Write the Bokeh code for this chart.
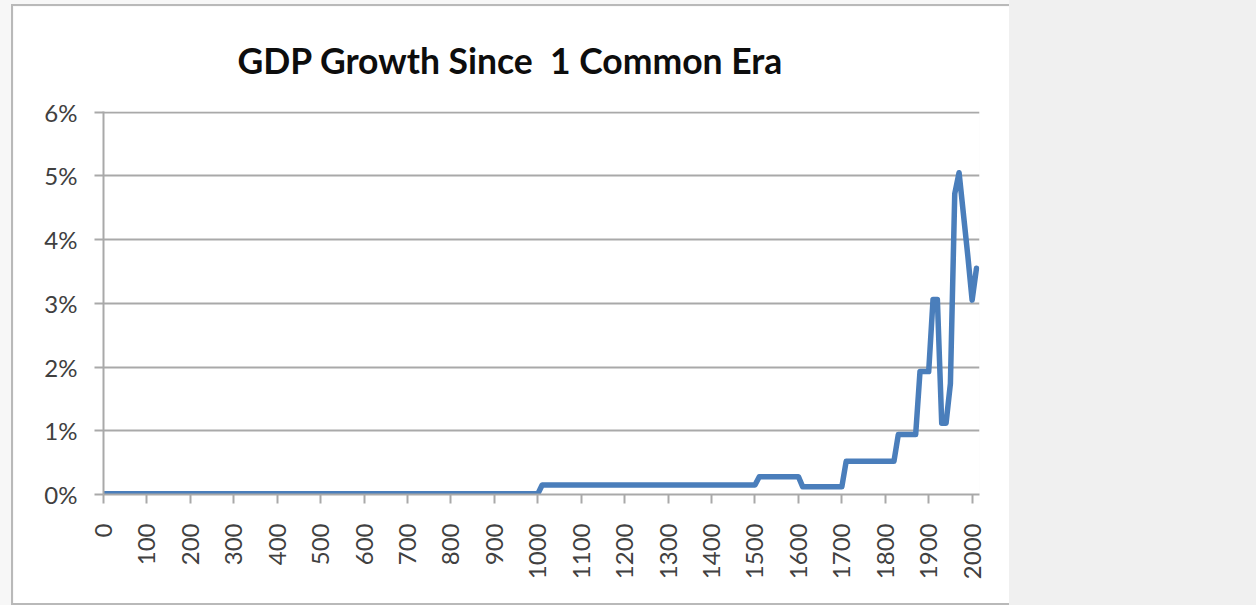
import math

from bokeh.embed import file_html
from bokeh.layouts import row
from bokeh.models import FixedTicker, Range1d, Spacer
from bokeh.plotting import figure
from bokeh.resources import INLINE

# Average annual world GDP growth (%), sampled per decade where it changes
years = [0, 1000, 1010, 1500, 1510, 1600, 1610, 1700, 1710, 1820, 1830,
         1870, 1880, 1900, 1910, 1920, 1930, 1940, 1950, 1960, 1970,
         1980, 1990, 2000, 2010]
growth = [0.01, 0.01, 0.15, 0.15, 0.28, 0.28, 0.12, 0.12, 0.52, 0.52, 0.94,
          0.94, 1.93, 1.93, 3.06, 3.06, 1.12, 1.12, 1.74, 4.72, 5.05,
          4.40, 3.75, 3.05, 3.55]

x_ticks = list(range(0, 2001, 100))
x_tick_labels = [str(t) for t in x_ticks]
y_ticks = [0, 1, 2, 3, 4, 5, 6]
y_tick_labels = ["0%", "1%", "2%", "3%", "4%", "5%", "6%"]
# the gap before "1" is two spaces wide; a no-break space keeps it from collapsing
title_text = "GDP Growth Since\u00a0 1 Common Era"

FONT = "Lato"
GRID = "#a9a9a9"
TEXT = "#404040"

p = figure(
    width=996, height=597,
    x_range=Range1d(0, 2017), y_range=Range1d(0, 6.01),
    output_backend="svg", toolbar_location=None,
    min_border_left=90, min_border_right=30,
    min_border_top=105, min_border_bottom=109,
    margin=(6, 0, 0, 13),
    background_fill_color="white", border_fill_color="white",
    styles={"outline": "2px solid #b9b9b9"},
)
p.outline_line_color = None

# chart title
p.title.text = title_text
p.title.align = "left"
p.title.offset = 134
p.title.standoff = 59
p.title.text_font = FONT
p.title.text_font_style = "bold"
p.title.text_font_size = "35.5px"
p.title.text_color = "#0d0d0d"

# axes
p.xaxis.ticker = FixedTicker(ticks=x_ticks)
p.xaxis.major_label_overrides = dict(zip(x_ticks, x_tick_labels))
p.xaxis.major_label_orientation = math.pi / 2
p.yaxis.ticker = FixedTicker(ticks=y_ticks)
p.yaxis.major_label_overrides = dict(zip(y_ticks, y_tick_labels))

for ax in (p.xaxis[0], p.yaxis[0]):
    ax.axis_line_color = GRID
    ax.axis_line_width = 2
    ax.major_tick_line_color = GRID
    ax.major_tick_line_width = 2
    ax.major_tick_in = 0
    ax.major_tick_out = 9
    ax.minor_tick_line_color = None
    ax.major_label_text_font = FONT
    ax.major_label_text_font_size = "24px"
    ax.major_label_text_color = TEXT
p.xaxis.major_label_standoff = 20
p.yaxis.major_label_standoff = 17

p.xgrid.grid_line_color = None
p.ygrid.ticker = FixedTicker(ticks=y_ticks)
p.ygrid.grid_line_color = GRID
p.ygrid.grid_line_width = 2

# growth line
p.line(years, growth, line_color="#4a7ebb", line_width=5.5,
       line_join="round", line_cap="round")

side = Spacer(width=247, height=605, styles={"background-color": "#f0f0f0"})
layout = row(p, side, spacing=0, styles={"background-color": "#f7f7f7"})

open("out.html", "w").write(file_html(layout, INLINE))
